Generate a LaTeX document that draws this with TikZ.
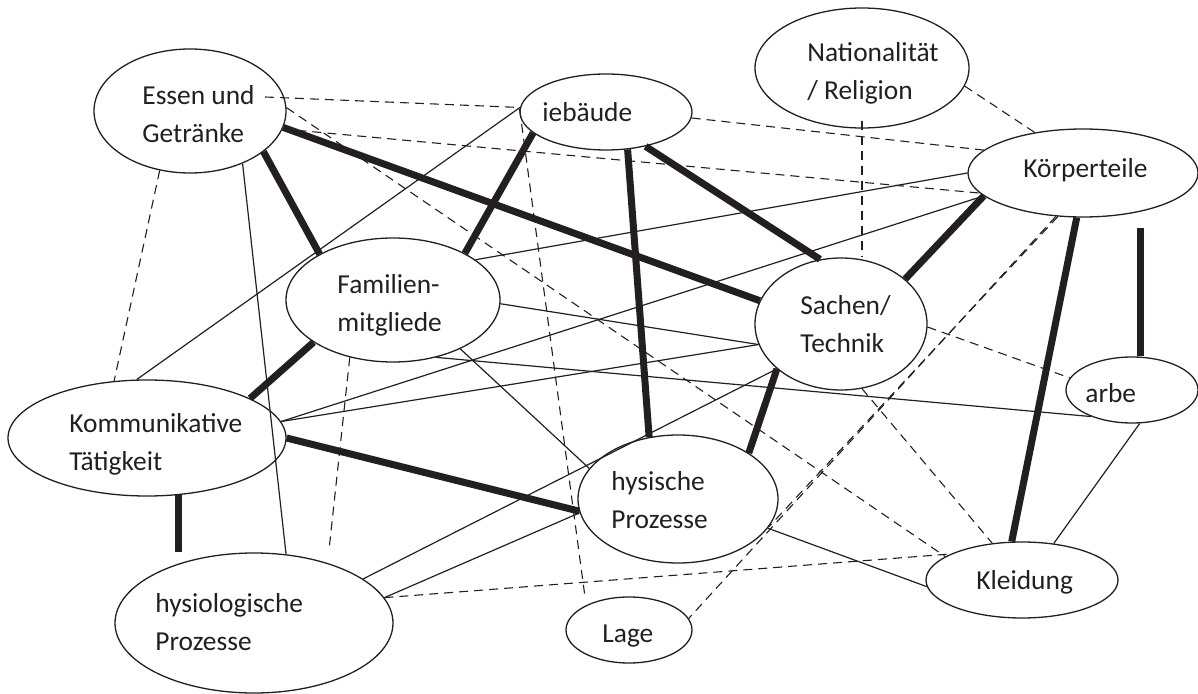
\documentclass[tikz,border=0pt]{standalone}
\usepackage{fontspec}
\setmainfont{Carlito}
\usetikzlibrary{shapes.geometric}
\definecolor{ink}{HTML}{231F20}
\tikzset{topic/.style={draw=ink,ellipse,line width=0.65pt,inner sep=0pt},words/.style={anchor=base west,align=left,inner sep=0pt,text=ink,font=\fontsize{13.7}{19}\selectfont},strong/.style={draw=ink,line width=3.5pt},link/.style={draw=ink,line width=0.6pt},vague/.style={draw=ink,line width=0.55pt,dash pattern=on 4.5pt off 3pt}}

\begin{document}
\begin{tikzpicture}[x=0.5pt,y=-0.5pt]
\useasboundingbox (0,0) rectangle (1198,694);
\node[topic,minimum width=96pt,minimum height=62pt] (essen) at (190,111) {};
\node[topic,minimum width=86pt,minimum height=38pt] (gebaeude) at (606,112) {};
\node[topic,minimum width=107pt,minimum height=60pt] (national) at (862,68) {};
\node[topic,minimum width=115pt,minimum height=44pt] (koerper) at (1083,173) {};
\node[topic,minimum width=107pt,minimum height=62pt] (familie) at (393,300) {};
\node[topic,minimum width=86pt,minimum height=66pt] (sachen) at (841,324) {};
\node[topic,minimum width=66pt,minimum height=33pt] (farbe) at (1132,390) {};
\node[topic,minimum width=139pt,minimum height=58pt] (komm) at (147,438) {};
\node[topic,minimum width=100pt,minimum height=64pt] (physik) at (678,499) {};
\node[topic,minimum width=96pt,minimum height=38pt] (kleidung) at (1022,580) {};
\node[topic,minimum width=139pt,minimum height=70pt] (physio) at (254,623) {};
\node[topic,minimum width=63pt,minimum height=33pt] (lage) at (629,630) {};
\node[words] (essen-t) at (142,143) {Essen und\\Getränke};
\node[words] (gebaeude-t) at (542,122) {iebäude};
\node[words] (national-t) at (807,100) {Nationalität\\/ Religion};
\node[words] (koerper-t) at (1023,178) {Körperteile};
\node[words] (familie-t) at (337,332) {Familien-\\mitgliede};
\node[words] (sachen-t) at (800,353) {Sachen/\\Technik};
\node[words] (farbe-t) at (1085,403) {arbe};
\node[words] (komm-t) at (69,471) {Kommunikative\\Tätigkeit};
\node[words] (physik-t) at (611,528) {hysische\\Prozesse};
\node[words] (kleidung-t) at (976,589) {Kleidung};
\node[words] (physio-t) at (155,650) {hysiologische\\Prozesse};
\node[words] (lage-t) at (602,642) {Lage};
\coordinate (undend) at (265,97);\coordinate (farbetop) at (1140,228);
\coordinate (lagetop) at (585,597);\coordinate (physiotop) at (329,550);
\draw[strong] (essen.-10) -- (sachen.164);\draw[strong] (essen.-29) -- (familie.148);
\draw[strong] (gebaeude.196) -- (familie.33);\draw[strong] (gebaeude.-60) -- (physik.115);
\draw[strong] (gebaeude.-41) -- (sachen.108);\draw[strong] (koerper.193) -- (sachen.35);
\draw[strong] (koerper.-98) -- (kleidung.105);\draw[strong] (farbetop) -- (farbetop |- farbe.north);
\draw[strong] (sachen.-145) -- (physik.33);\draw[strong] (familie.208) -- (komm.21);
\draw[strong] (komm.0) -- (physik.187);\draw[strong] (komm.-61) -- (komm.-61 |- physio.north);
\draw[link] (essen.-45) -- (physio.65);\draw[link] (gebaeude.177) -- (komm.100);
\draw[link] (familie.26) -- (koerper.180);\draw[link] (familie.-2) -- (sachen.194);
\draw[link] (familie.-36) -- (physik.161);\draw[link] (physio.22) -- (sachen.-145);
\draw[link] (physio.11) -- (physik.188);\draw[link] (physik.-18) -- (kleidung.184);
\draw[link] (farbe.-77) -- (kleidung.49);\draw[link] (komm.7) -- (koerper.193);
\draw[link] (komm.7) -- (sachen.194);\draw[link] (familie.-53) -- (farbe.213);
\draw[vague] (undend) -- (gebaeude.177);\draw[vague] (essen.-11) -- (koerper.191);
\draw[vague] (essen.2) -- (kleidung.163);\draw[vague] (essen.-117) -- (komm.120);
\draw[vague] (gebaeude.-4) -- (koerper.167);\draw[vague] (gebaeude.178) -- (lagetop);
\draw[vague] ([yshift=4pt]national.south) -- (national.south |- sachen.north);\draw[vague] (national.-10) -- (koerper.140);
\draw[vague] (koerper.-122) -- (lage.11);\draw[vague] (koerper.-120) -- (physik.-17);
\draw[vague] (sachen.-2) -- (farbe.169);\draw[vague] (sachen.-72) -- (kleidung.129);
\draw[vague] (physio.11) -- (kleidung.160);\draw[vague] (familie.-127) -- (physiotop);
\end{tikzpicture}
\end{document}
